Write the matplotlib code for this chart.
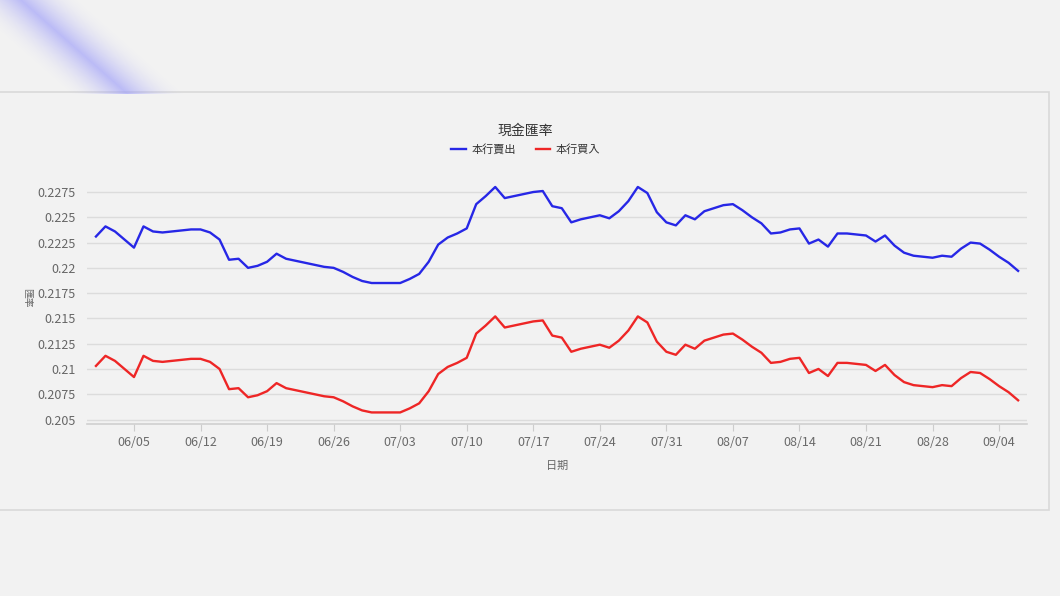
import numpy as np
import pandas as pd
import matplotlib.pyplot as plt
import matplotlib.dates as mdates
from matplotlib.patches import Rectangle

plt.rcParams['font.family'] = ['Noto Sans CJK TC', 'DejaVu Sans']

# --- data (daily, 06/01 - 09/06) ---
start_date = '2024-06-01'
sell = [0.2231, 0.2241, 0.2236, 0.2228, 0.2220, 0.2241, 0.2236, 0.2235, 0.2236, 0.2237,
        0.2238, 0.2238, 0.2235, 0.2228, 0.2208, 0.2209, 0.2200, 0.2202, 0.2206, 0.2214,
        0.2209, 0.2207, 0.2205, 0.2203, 0.2201, 0.2200, 0.2196, 0.2191, 0.2187, 0.2185,
        0.2185, 0.2185, 0.2185, 0.2189, 0.2194, 0.2206, 0.2223, 0.2230, 0.2234, 0.2239,
        0.2263, 0.2271, 0.2280, 0.2269, 0.2271, 0.2273, 0.2275, 0.2276, 0.2261, 0.2259,
        0.2245, 0.2248, 0.2250, 0.2252, 0.2249, 0.2256, 0.2266, 0.2280, 0.2274, 0.2255,
        0.2245, 0.2242, 0.2252, 0.2248, 0.2256, 0.2259, 0.2262, 0.2263, 0.2257, 0.2250,
        0.2244, 0.2234, 0.2235, 0.2238, 0.2239, 0.2224, 0.2228, 0.2221, 0.2234, 0.2234,
        0.2233, 0.2232, 0.2226, 0.2232, 0.2222, 0.2215, 0.2212, 0.2211, 0.2210, 0.2212,
        0.2211, 0.2219, 0.2225, 0.2224, 0.2218, 0.2211, 0.2205, 0.2197]
buy = [0.2103, 0.2113, 0.2108, 0.2100, 0.2092, 0.2113, 0.2108, 0.2107, 0.2108, 0.2109,
       0.2110, 0.2110, 0.2107, 0.2100, 0.2080, 0.2081, 0.2072, 0.2074, 0.2078, 0.2086,
       0.2081, 0.2079, 0.2077, 0.2075, 0.2073, 0.2072, 0.2068, 0.2063, 0.2059, 0.2057,
       0.2057, 0.2057, 0.2057, 0.2061, 0.2066, 0.2078, 0.2095, 0.2102, 0.2106, 0.2111,
       0.2135, 0.2143, 0.2152, 0.2141, 0.2143, 0.2145, 0.2147, 0.2148, 0.2133, 0.2131,
       0.2117, 0.2120, 0.2122, 0.2124, 0.2121, 0.2128, 0.2138, 0.2152, 0.2146, 0.2127,
       0.2117, 0.2114, 0.2124, 0.2120, 0.2128, 0.2131, 0.2134, 0.2135, 0.2129, 0.2122,
       0.2116, 0.2106, 0.2107, 0.2110, 0.2111, 0.2096, 0.2100, 0.2093, 0.2106, 0.2106,
       0.2105, 0.2104, 0.2098, 0.2104, 0.2094, 0.2087, 0.2084, 0.2083, 0.2082, 0.2084,
       0.2083, 0.2091, 0.2097, 0.2096, 0.2090, 0.2083, 0.2077, 0.2069]
y_ticks = [0.205, 0.2075, 0.21, 0.2125, 0.215, 0.2175, 0.22, 0.2225, 0.225, 0.2275]
y_tick_labels = ['0.205', '0.2075', '0.21', '0.2125', '0.215', '0.2175', '0.22', '0.2225', '0.225', '0.2275']
x_tick_labels = ['06/05', '06/12', '06/19', '06/26', '07/03', '07/10', '07/17', '07/24',
                 '07/31', '08/07', '08/14', '08/21', '08/28', '09/04']

dates = pd.date_range(start_date, periods=len(sell), freq='D')
x_ticks = pd.to_datetime(['2024/' + s for s in x_tick_labels])

BG = '#f2f2f2'
fig = plt.figure(figsize=(10.6, 5.96), dpi=100, facecolor=BG)

# soft purple streak at top-left corner
deco = fig.add_axes([0, 0.843, 0.2, 0.157])
gx, gy = np.meshgrid(np.linspace(0, 1, 212), np.linspace(0, 1, 94))
d = np.abs(gx - (0.10 + 0.50 * gy))
alpha = np.clip(1 - d / 0.28, 0, 1) ** 1.8 * 0.62
rgba = np.zeros(gx.shape + (4,))
rgba[..., 0] = 0.60
rgba[..., 1] = 0.60
rgba[..., 2] = 0.98
rgba[..., 3] = alpha
deco.imshow(rgba, origin='upper', aspect='auto')
deco.axis('off')

# chart container panel
fig.patches.append(Rectangle((-0.01, 0.145), 1.0, 0.70, transform=fig.transFigure,
                             facecolor=BG, edgecolor='#d9d9d9', linewidth=1.2, zorder=-5))

ax = fig.add_axes([0.082, 0.289, 0.887, 0.409])
ax.set_facecolor(BG)
ax.plot(dates, sell, color='#2727e6', linewidth=1.7, label='本行賣出', solid_joinstyle='round')
ax.plot(dates, buy, color='#ee2626', linewidth=1.7, label='本行買入', solid_joinstyle='round')

ax.set_ylim(0.20458, 0.22869)
ax.set_xlim(dates[0] - pd.Timedelta(days=0.95), dates[0] + pd.Timedelta(days=97.95))
ax.set_yticks(y_ticks)
ax.set_yticklabels(y_tick_labels)
ax.set_xticks(x_ticks)
ax.xaxis.set_major_formatter(mdates.DateFormatter('%m/%d'))
ax.grid(axis='y', color='#dcdcdc', linewidth=1)
ax.set_axisbelow(True)
for s in ['top', 'right', 'left']:
    ax.spines[s].set_visible(False)
ax.spines['bottom'].set_color('#d0d0d0')
ax.spines['bottom'].set_linewidth(1.2)
ax.tick_params(axis='y', length=0, labelsize=9, labelcolor='#666666', pad=8)
ax.tick_params(axis='x', length=5, color='#cccccc', labelsize=9, labelcolor='#6a6a6a', pad=4)

ax.set_xlabel('日期', fontsize=8, color='#666666', labelpad=8)
fig.text(0.026, 0.5, '匯率', rotation=270, fontsize=7, color='#666666', ha='center', va='center')

fig.text(0.496, 0.781, '現金匯率', fontsize=10, color='#333333', ha='center', va='center')
fig.legend(loc='center', bbox_to_anchor=(0.496, 0.749), ncol=2, frameon=False,
           fontsize=8, handlelength=1.3, columnspacing=1.8, handletextpad=0.5,
           labelcolor='#333333')

fig.savefig('out.png', dpi=100, facecolor=BG)
